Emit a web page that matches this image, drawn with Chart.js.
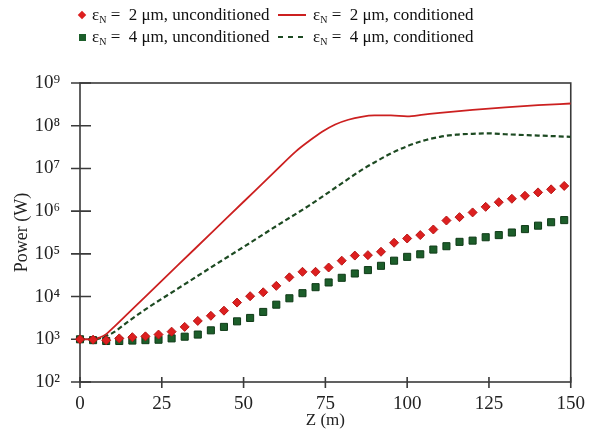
<!DOCTYPE html>
<html><head><meta charset="utf-8">
<script src="https://cdn.jsdelivr.net/npm/chart.js@4/dist/chart.umd.min.js"></script>
<style>
html,body{margin:0;padding:0;background:#fff;}
#wrap{position:relative;width:596px;height:435px;}
canvas{position:absolute;left:0;top:0;}
.leg{position:absolute;font-family:"Liberation Serif","Times New Roman",serif;font-size:17px;color:#111;white-space:nowrap;line-height:20px;}
.leg sub{font-size:10px;vertical-align:-3px;line-height:0;}
.mk{position:absolute;}
</style></head>
<body><div id="wrap"><canvas id="c" width="596" height="435"></canvas>
<div class="mk" style="left:79px;top:12px;width:6px;height:6px;background:#dd1f1f;transform:rotate(45deg);"></div>
<div class="leg" style="left:92px;top:5px;">ε<sub>N</sub> =&nbsp; 2 μm, unconditioned</div>
<div class="mk" style="left:278px;top:14px;width:28px;height:2px;background:#cc2020;"></div>
<div class="leg" style="left:313px;top:5px;">ε<sub>N</sub> =&nbsp; 2 μm, conditioned</div>
<div class="mk" style="left:79px;top:34px;width:7px;height:7px;background:#1c5e2a;"></div>
<div class="leg" style="left:92px;top:27px;">ε<sub>N</sub> =&nbsp; 4 μm, unconditioned</div>
<div class="mk" style="left:278px;top:36px;width:28px;height:2px;background:repeating-linear-gradient(to right,#1d4a22 0 5px,transparent 5px 10px);"></div>
<div class="leg" style="left:313px;top:27px;">ε<sub>N</sub> =&nbsp; 4 μm, conditioned</div>
</div>
<script>
// Marker positions Z (m)
const zMarkers = [0,4,8,12,16,20,24,28,32,36,40,44,48,52,56,60,64,68,72,76,80,84,88,92,96,100,104,108,112,116,120,124,128,132,136,140,144,148];
// eps_N = 2 um, unconditioned (W)
const p2Uncond = [1000,980,950,1050,1120,1170,1290,1510,1950,2690,3550,4680,7240,10200,12600,17800,28200,38000,38000,47900,69200,91200,93300,112000,182000,229000,275000,372000,603000,724000,933000,1.26e6,1.62e6,1.95e6,2.29e6,2.75e6,3.24e6,3.89e6];
// eps_N = 4 um, unconditioned (W)
const p4Uncond = [1000,955,912,912,933,955,977,1050,1150,1290,1620,1950,2630,3160,4370,6460,9120,12000,16600,21400,27500,34700,41700,52500,69200,85100,97700,126000,151000,191000,204000,245000,275000,316000,380000,457000,550000,617000];
// eps_N = 2 um, conditioned
const z2Cond = [0,4,6,8,10,15,20,30,40,50,60,66,70,74,78,82,86,90,95,100,105,110,120,130,140,150];
const p2Cond = [1000,1000,1100,1320,1820,4270,10000,55000,302000,1.66e6,9.12e6,2.51e7,4.37e7,7.24e7,1.07e8,1.38e8,1.62e8,1.74e8,1.74e8,1.66e8,1.82e8,2.0e8,2.34e8,2.69e8,3.02e8,3.31e8];
// eps_N = 4 um, conditioned
const z4Cond = [0,4,6,8,10,15,20,30,40,50,60,70,80,86,90,95,100,105,110,115,120,125,130,140,150];
const p4Cond = [1000,1000,1050,1200,1410,2690,5010,15500,47900,145000,447000,1.35e6,4.47e6,9.12e6,1.38e7,2.24e7,3.31e7,4.47e7,5.5e7,6.17e7,6.46e7,6.61e7,6.31e7,5.89e7,5.5e7];
// Axis ticks
const xTicks = [0,25,50,75,100,125,150];
const yTicks = [1e2,1e3,1e4,1e5,1e6,1e7,1e8,1e9];
const yExp = ['\u00B2','\u00B3','\u2074','\u2075','\u2076','\u2077','\u2078','\u2079'];

const FONT = "'Liberation Serif','Times New Roman','DejaVu Serif',serif";
const pts = (xs, ys) => xs.map((x, i) => ({x: x, y: ys[i]}));

const boxPlugin = {
  id: 'box',
  beforeDatasetsDraw(chart) {
    const {ctx, chartArea: a, scales: {x, y}} = chart;
    ctx.save();
    ctx.strokeStyle = '#3a3a3a';
    ctx.lineWidth = 1.6;
    ctx.strokeRect(a.left, a.top, a.right - a.left, a.bottom - a.top);
    ctx.beginPath();
    y.ticks.forEach(t => { const py = y.getPixelForValue(t.value); ctx.moveTo(a.left - 9, py); ctx.lineTo(a.left + 11, py); });
    x.ticks.forEach(t => { const px = x.getPixelForValue(t.value); ctx.moveTo(px, a.bottom - 5); ctx.lineTo(px, a.bottom + 6); });
    ctx.stroke();
    ctx.restore();
  }
};

new Chart(document.getElementById('c'), {
  type: 'line',
  data: {
    datasets: [
      {label: 'εN = 2 μm, unconditioned', data: pts(zMarkers, p2Uncond), showLine: false, clip: false,
       pointStyle: 'rectRot', pointRadius: 4.5, backgroundColor: '#dd1f1f', borderColor: '#b81616', pointBorderWidth: 1},
      {label: 'εN = 4 μm, unconditioned', data: pts(zMarkers, p4Uncond), showLine: false, clip: false,
       pointStyle: 'rect', pointRadius: 5, backgroundColor: '#1c5e2a', borderColor: '#0f3a17', pointBorderWidth: 1},
      {label: 'εN = 2 μm, conditioned', data: pts(z2Cond, p2Cond), borderColor: '#cc2020', borderWidth: 1.8,
       pointRadius: 0, cubicInterpolationMode: 'monotone', fill: false},
      {label: 'εN = 4 μm, conditioned', data: pts(z4Cond, p4Cond), borderColor: '#1d4a22', borderWidth: 2.2,
       borderDash: [5, 3], pointRadius: 0, cubicInterpolationMode: 'monotone', fill: false}
    ]
  },
  options: {
    responsive: false, animation: false,
    layout: {padding: {top: 83, right: 16, left: 0, bottom: 0}},
    plugins: {legend: {display: false}, tooltip: {enabled: false}},
    scales: {
      x: {
        type: 'linear', min: 0, max: 150,
        afterBuildTicks(s) { s.ticks = xTicks.map(v => ({value: v})); },
        ticks: {padding: 11, color: '#222', font: {family: FONT, size: 19}},
        grid: {display: false, drawTicks: false}, border: {display: false},
        title: {display: true, text: 'Z (m)', color: '#222', font: {family: FONT, size: 17}, padding: {top: 0, bottom: 4}},
        afterFit(s) { s.height = 53; }
      },
      y: {
        type: 'logarithmic', min: 1e2, max: 1e9,
        afterBuildTicks(s) { s.ticks = yTicks.map(v => ({value: v})); },
        ticks: {padding: 20, color: '#222', font: {family: FONT, size: 19},
                callback: (v, i) => '10' + yExp[i]},
        grid: {display: false, drawTicks: false}, border: {display: false},
        title: {display: true, text: 'Power (W)', color: '#222', font: {family: FONT, size: 18}, padding: {top: 11, bottom: 0}},
        afterFit(s) { s.width = 80; }
      }
    }
  },
  plugins: [boxPlugin]
});
</script>
</body></html>
